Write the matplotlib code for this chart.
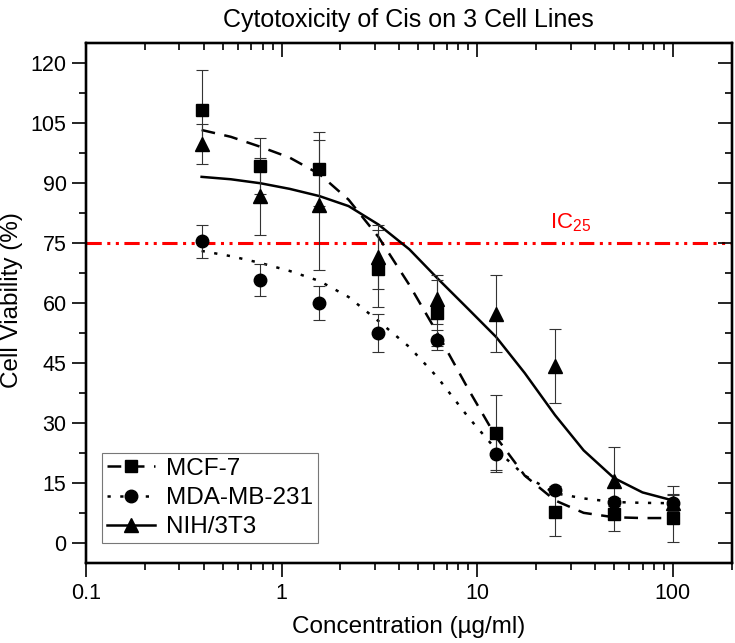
import numpy as np
import matplotlib
matplotlib.use('Agg')
import matplotlib.pyplot as plt
from matplotlib.lines import Line2D
from matplotlib.ticker import FixedLocator, MultipleLocator, NullFormatter, LogLocator

plt.rcParams['font.family'] = ['Liberation Sans', 'DejaVu Sans']

# measured points (mean +/- sd)
conc = [0.39, 0.78, 1.56, 3.125, 6.25, 12.5, 25, 50, 100]
mcf7 = [108.2, 94.2, 93.4, 68.6, 57.5, 27.6, 7.7, 7.2, 6.4]
mcf7_sd = [10.0, 7.0, 9.2, 9.7, 8.2, 9.4, 6.0, 4.2, 6.0]
mda = [75.4, 65.7, 60.0, 52.5, 50.7, 22.2, 13.3, 10.3, 10.1]
mda_sd = [4.2, 4.0, 4.2, 4.7, 2.5, 4.3, 1.0, 1.0, 2.0]
nih = [99.6, 86.7, 84.5, 71.5, 60.9, 57.3, 44.3, 15.5, 10.0]
nih_sd = [5.0, 9.6, 16.3, 8.0, 6.2, 9.6, 9.2, 8.5, 4.2]

# fitted curves
fit_x = [0.39, 0.55, 0.78, 1.1, 1.56, 2.2, 3.125, 4.5, 6.25, 9, 12.5, 17.5, 25, 35, 50, 70, 100]
fit_mcf7 = [103.2, 101.5, 99.0, 96.3, 92.2, 85.8, 76.5, 64.5, 52.5, 38.5, 26.5, 16.9, 10.7, 7.6, 6.5, 6.3, 6.3]
fit_mda = [73.0, 71.7, 70.0, 68.0, 65.5, 61.5, 55.5, 49.0, 41.5, 31.5, 23.4, 16.9, 12.5, 11.2, 10.3, 10.1, 10.0]
fit_nih = [91.5, 90.9, 89.9, 88.5, 86.7, 84.2, 79.6, 73.4, 66.2, 58.5, 51.5, 42.5, 32.0, 23.2, 16.3, 12.7, 10.7]

labels = ["MCF-7", "MDA-MB-231", "NIH/3T3"]
ic25 = 75

fig = plt.figure(figsize=(7.35, 6.43), dpi=100)
ax = fig.add_axes([86/735, 1-563.3/643, (731.7-86)/735, (563.3-42.7)/643])

dash = (0, (5.5, 3.8))
dot = (0, (1.3, 3.8))

ax.axhline(ic25, color='red', lw=2.2, ls=(0, (5, 1.8, 1, 1.8, 1, 1.8)), zorder=1)
ax.annotate(r'IC$_{\mathregular{25}}$', xy=(550, 643-228), xycoords='figure pixels',
            color='red', fontsize=16, ha='left', va='baseline')

ax.plot(fit_x, fit_mcf7, color='k', lw=1.8, ls=dash, zorder=2)
ax.plot(fit_x, fit_mda, color='k', lw=1.8, ls=dot, zorder=2)
ax.plot(fit_x, fit_nih, color='k', lw=1.8, ls='-', zorder=2)

ebk = dict(color='k', ecolor='#333333', elinewidth=0.8, capsize=4, capthick=0.8, ls='none', zorder=3)
ax.errorbar(conc, mcf7, yerr=mcf7_sd, fmt='s', ms=8, **ebk)
ax.errorbar(conc, mda, yerr=mda_sd, fmt='o', ms=9, **ebk)
ax.errorbar(conc, nih, yerr=nih_sd, fmt='^', ms=10, **ebk)

ax.set_xscale('log')
ax.set_xlim(0.1, 200)
ax.set_ylim(-5, 125)
ax.xaxis.set_major_locator(FixedLocator([0.1, 1, 10, 100]))
ax.xaxis.set_minor_locator(LogLocator(base=10, subs=np.arange(2, 10)))
ax.xaxis.set_minor_formatter(NullFormatter())
ax.set_xticklabels(["0.1", "1", "10", "100"])
ax.yaxis.set_major_locator(MultipleLocator(15))
ax.yaxis.set_minor_locator(MultipleLocator(7.5))
ax.tick_params(which='major', direction='out', length=10, width=1.2, labelsize=15.5, pad=4)
ax.tick_params(which='minor', direction='out', length=5, width=1.2)

# mirrored inward ticks on top and right
axt = ax.twiny()
axt.set_xscale('log')
axt.set_xlim(ax.get_xlim())
axt.xaxis.set_major_locator(FixedLocator([0.1, 1, 10, 100]))
axt.xaxis.set_minor_locator(LogLocator(base=10, subs=np.arange(2, 10)))
axt.tick_params(which='both', direction='in', labeltop=False)
axt.tick_params(which='major', length=10, width=1.2)
axt.tick_params(which='minor', length=5, width=1.2)
axr = ax.twinx()
axr.set_ylim(ax.get_ylim())
axr.yaxis.set_major_locator(MultipleLocator(15))
axr.yaxis.set_minor_locator(MultipleLocator(7.5))
axr.tick_params(which='both', direction='in', labelright=False)
axr.tick_params(which='major', length=10, width=1.2)
axr.tick_params(which='minor', length=5, width=1.2)

for a in (ax, axt, axr):
    for s in a.spines.values():
        s.set_linewidth(1.6)

fig.text((86+731.7)/2/735, 1-27/643, "Cytotoxicity of Cis on 3 Cell Lines",
         fontsize=18, ha='center', va='baseline')
fig.text((86+731.7)/2/735, 1-633/643, "Concentration (µg/ml)",
         fontsize=17.5, ha='center', va='baseline')
fig.text(12/735, 1-300/643, "Cell Viability (%)", fontsize=17.5,
         rotation=90, ha='center', va='center')

handles = [
    Line2D([], [], color='k', lw=1.8, ls=dash, marker='s', ms=8),
    Line2D([], [], color='k', lw=1.8, ls=dot, marker='o', ms=9),
    Line2D([], [], color='k', lw=1.8, ls='-', marker='^', ms=10),
]
leg = ax.legend(handles, labels, loc='lower left',
                bbox_to_anchor=(15.7/645.7, 20/520.6), borderaxespad=0,
                fontsize=17.5, frameon=True, fancybox=False, framealpha=1,
                edgecolor='#777777', handlelength=2.0, handletextpad=0.45,
                labelspacing=0.3, borderpad=0.2)
leg.get_frame().set_linewidth(0.8)

fig.savefig('out.png', dpi=100)
